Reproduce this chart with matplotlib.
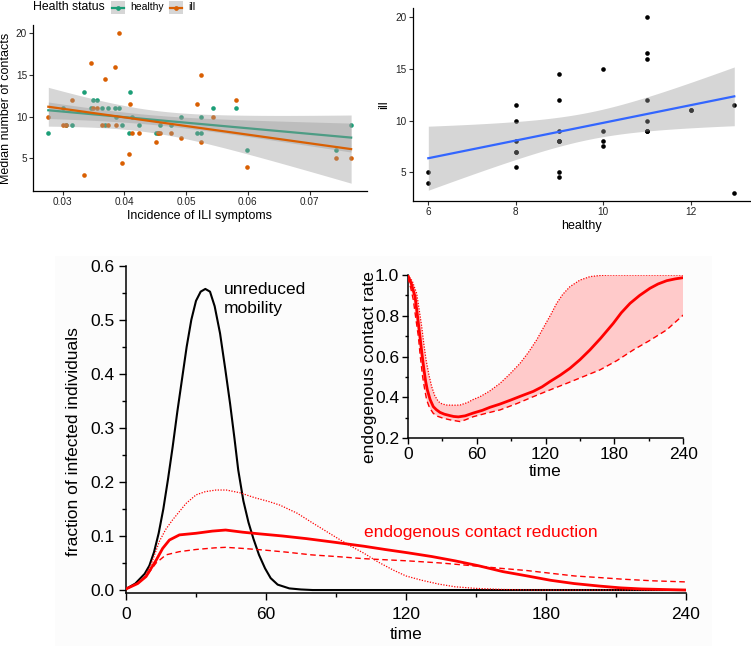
import numpy as np
import matplotlib
matplotlib.use('Agg')
import matplotlib.pyplot as plt
from matplotlib.patches import Rectangle
from matplotlib.lines import Line2D
from matplotlib.ticker import MultipleLocator, FixedLocator

plt.rcParams['font.family'] = ['Liberation Sans', 'DejaVu Sans']

# ---------------- data: top panels ----------------
incidence = [0.0277, 0.0300, 0.0306, 0.0316, 0.0335, 0.0346, 0.0350, 0.0356,
             0.0364, 0.0369, 0.0373, 0.0385, 0.0387, 0.0392, 0.0396, 0.0407,
             0.0409, 0.0413, 0.0424, 0.0451, 0.0454, 0.0457, 0.0475, 0.0491,
             0.0518, 0.0524, 0.0524, 0.0544, 0.0581, 0.0599, 0.0743, 0.0767]
healthy = [8, 11, 9, 9, 13, 11, 12, 12,
           11, 9, 11, 11, 10, 11, 9, 8,
           13, 10, 9, 8, 8, 9, 9, 10,
           8, 10, 8, 11, 11, 6, 6, 9]
ill = [10, 9, 9, 12, 3, 16.5, 11, 11,
       9, 14.5, 9, 16, 9, 20, 4.5, 5.5,
       11.5, 8, 8, 7, 8, 8, 8, 7.5,
       11.5, 15, 7, 10, 12, 4, 5, 5]
status_labels = ['healthy', 'ill']
status_colors = ['#1B9E77', '#D95F02']

# ---------------- data: bottom panel ----------------
t_unreduced = [0, 4, 8, 10, 12, 14, 16, 18, 20, 22, 24, 26, 28, 30, 32, 34, 36,
               38, 40.3, 42.5, 44.6, 46.5, 48.1, 50.3, 52.5, 54.6, 57, 59.6, 62,
               65, 70, 75, 80, 240]
f_unreduced = [0.002, 0.012, 0.03, 0.045, 0.07, 0.105, 0.15, 0.205, 0.265, 0.33,
               0.39, 0.45, 0.5, 0.535, 0.552, 0.557, 0.552, 0.525, 0.475, 0.41,
               0.345, 0.28, 0.222, 0.165, 0.125, 0.095, 0.065, 0.04, 0.022, 0.01,
               0.003, 0.001, 0.0, 0.0]

t_endo_mean = [0, 5, 8.6, 12.9, 15.7, 18.6, 22.9, 30, 37, 42.7, 50, 57, 67, 77.5,
               90, 102, 111, 120.6, 131, 141, 151, 161.6, 172, 182, 192, 202.7,
               212, 221, 230, 240]
f_endo_mean = [0.002, 0.012, 0.025, 0.055, 0.077, 0.0925, 0.102, 0.105, 0.109,
               0.111, 0.107, 0.104, 0.1, 0.095, 0.088, 0.081, 0.075, 0.069,
               0.062, 0.054, 0.045, 0.034, 0.026, 0.018, 0.012, 0.0074, 0.004,
               0.002, 0.001, 0.0]

t_endo_upper = [0, 5, 8, 11, 14.3, 17, 20, 25.7, 30, 34, 38.6, 43, 48.8, 55, 61,
                66, 73.4, 80, 89.8, 96, 102, 108, 114.5, 120, 126.8, 134, 141,
                150, 161.6, 175, 240]
f_endo_upper = [0.002, 0.012, 0.025, 0.05, 0.09, 0.112, 0.13, 0.16, 0.176,
                0.182, 0.185, 0.185, 0.18, 0.171, 0.164, 0.157, 0.142, 0.124,
                0.098, 0.082, 0.068, 0.052, 0.037, 0.026, 0.018, 0.011, 0.006,
                0.003, 0.001, 0.0, 0.0]

t_endo_lower = [0, 5, 8.6, 12.9, 17.1, 22.9, 30, 38, 42.7, 50, 59, 69, 79.6, 90,
                102, 111, 120.6, 135, 151, 161, 171.9, 182, 192.3, 203, 213,
                226, 240]
f_endo_lower = [0.002, 0.012, 0.025, 0.05, 0.065, 0.071, 0.075, 0.078, 0.079,
                0.077, 0.074, 0.07, 0.065, 0.062, 0.058, 0.056, 0.054, 0.05,
                0.044, 0.04, 0.036, 0.031, 0.026, 0.023, 0.02, 0.017, 0.015]

# inset: endogenous contact rate
t_rate_mean = [0, 3, 6.4, 8.5, 10.7, 12.5, 14.2, 15.6, 17.1, 19.5, 22.3, 25,
               28.1, 32, 36.9, 40, 44.1, 50, 57.2, 65, 71.7, 80, 89.1, 100,
               109.4, 117, 123.9, 133, 141.3, 150, 158.7, 168, 179, 186, 193.6,
               202, 211, 218, 225.5, 233, 240]
rate_mean = [1.0, 0.96, 0.894, 0.8, 0.698, 0.61, 0.535, 0.48, 0.437, 0.39,
             0.355, 0.34, 0.327, 0.318, 0.311, 0.307, 0.305, 0.31, 0.324,
             0.337, 0.352, 0.367, 0.386, 0.41, 0.43, 0.452, 0.478, 0.51, 0.543,
             0.585, 0.633, 0.69, 0.763, 0.815, 0.861, 0.9, 0.935, 0.956, 0.972,
             0.981, 0.987]
t_rate_upper = [0, 4, 7.8, 10, 12.2, 14, 16, 18.5, 20.9, 23.5, 26.7, 30, 34, 40,
                45.6, 52, 57, 63, 71, 80.4, 89, 97.8, 105, 112.3, 120, 125,
                129.7, 135, 141.3, 150, 158.7, 168, 176, 200, 240]
rate_upper = [1.0, 0.97, 0.91, 0.83, 0.747, 0.665, 0.584, 0.51, 0.453, 0.41,
              0.38, 0.368, 0.363, 0.362, 0.363, 0.375, 0.39, 0.404, 0.43, 0.469,
              0.515, 0.567, 0.62, 0.682, 0.76, 0.81, 0.861, 0.905, 0.943, 0.975,
              0.992, 0.998, 1.0, 1.0, 1.0]
t_rate_lower = [0, 2.5, 4.9, 7, 9.3, 11, 13, 14.8, 16.5, 19, 22.3, 26, 31, 38,
                45.6, 50, 57.2, 68, 80.4, 95, 109.4, 123, 138.4, 152, 167.4, 182,
                196.5, 211, 225.5, 240]
rate_lower = [0.99, 0.94, 0.878, 0.79, 0.698, 0.6, 0.502, 0.44, 0.388, 0.35,
              0.322, 0.308, 0.298, 0.289, 0.282, 0.29, 0.306, 0.322, 0.339,
              0.37, 0.404, 0.435, 0.469, 0.5, 0.535, 0.58, 0.633, 0.68, 0.731,
              0.804]


def t_quantile(df, z=1.959964):
    # Cornish-Fisher expansion of the Student t 97.5% quantile
    return (z + (z**3 + z) / (4 * df) + (5 * z**5 + 16 * z**3 + 3 * z) / (96 * df**2)
            + (3 * z**7 + 19 * z**5 + 17 * z**3 - 15 * z) / (384 * df**3))


def lm_fit(x, y, n=80):
    x = np.asarray(x, float)
    y = np.asarray(y, float)
    b1, b0 = np.polyfit(x, y, 1)
    xs = np.linspace(x.min(), x.max(), n)
    yh = b0 + b1 * xs
    res = y - (b0 + b1 * x)
    df = len(x) - 2
    s = np.sqrt(np.sum(res**2) / df)
    sxx = np.sum((x - x.mean())**2)
    se = s * np.sqrt(1.0 / len(x) + (xs - x.mean())**2 / sxx)
    tq = t_quantile(df)
    return xs, yh, yh - tq * se, yh + tq * se


W, H = 751, 646
fig = plt.figure(figsize=(W / 100, H / 100), dpi=100)


def fax(l, t, r, b):
    return fig.add_axes([l / W, 1 - b / H, (r - l) / W, (b - t) / H])


# very faint background of the lower (raster) figure
bg = fig.add_axes([55 / W, 0, (712 - 55) / W, 1 - 256 / H], zorder=-10)
bg.set_axis_off()
bg.add_patch(Rectangle((0, 0), 1, 1, transform=bg.transAxes, facecolor='#fcfcfc',
                       edgecolor='none'))


def gg_style(ax, tick_size=7.2):
    for s in ['top', 'right']:
        ax.spines[s].set_visible(False)
    for s in ['left', 'bottom']:
        ax.spines[s].set_linewidth(0.9)
        ax.spines[s].set_color('black')
    ax.tick_params(length=3, width=0.8, color='#333333', labelsize=tick_size,
                   labelcolor='#222222', pad=1.5)


# ---------------- top-left panel ----------------
ax1 = fax(33.3, 25, 366.7, 191)
inc = np.asarray(incidence)
for vals, col in zip([healthy, ill], status_colors):
    ax1.scatter(inc, vals, s=11, color=col, linewidths=0, zorder=2)
z = 3
for vals, col in zip([healthy, ill], status_colors):
    xs, yh, lo, hi = lm_fit(inc, vals)
    ax1.fill_between(xs, lo, hi, color='#999999', alpha=0.4, linewidth=0, zorder=z)
    ax1.plot(xs, yh, color=col, lw=1.6, zorder=z + 0.1)
    z += 0.2
ax1.set_xlim(0.02527, 0.07922)
ax1.set_ylim(1.08, 21.0)
ax1.xaxis.set_major_locator(FixedLocator([0.03, 0.04, 0.05, 0.06, 0.07]))
ax1.yaxis.set_major_locator(FixedLocator([5, 10, 15, 20]))
ax1.set_xticklabels(['0.03', '0.04', '0.05', '0.06', '0.07'])
gg_style(ax1)
ax1.set_xlabel('Incidence of ILI symptoms', fontsize=9, labelpad=2)
ax1.set_ylabel('Median number of contacts', fontsize=9, labelpad=3)

# legend (top)
fig.text(33 / W, 1 - 7.5 / H, 'Health status', fontsize=8.8, va='center', ha='left')
for (kx, tx), lab, col in zip([(111, 130), (169, 188)], status_labels, status_colors):
    fig.patches.append(Rectangle((kx / W, 1 - 14 / H), 13.5 / W, 13 / H,
                                 transform=fig.transFigure, facecolor='#d6d6d6',
                                 edgecolor='none'))
    fig.lines.append(Line2D([(kx + 1) / W, (kx + 12.5) / W], [1 - 7.5 / H] * 2,
                            transform=fig.transFigure, color=col, lw=1.6))
    fig.lines.append(Line2D([(kx + 6.75) / W], [1 - 7.5 / H], transform=fig.transFigure,
                            color=col, marker='o', markersize=3.4, markeredgewidth=0))
    fig.text(tx / W, 1 - 7.5 / H, lab, fontsize=7.5, va='center', ha='left')

# ---------------- top-right panel ----------------
ax2 = fax(412.7, 8, 750, 201)
ax2.scatter(healthy, ill, s=11, color='black', linewidths=0, zorder=2)
xs, yh, lo, hi = lm_fit(healthy, ill)
ax2.fill_between(xs, lo, hi, color='#999999', alpha=0.4, linewidth=0, zorder=3)
ax2.plot(xs, yh, color='#3366FF', lw=1.6, zorder=4)
ax2.set_xlim(5.643, 13.36)
ax2.set_ylim(2.22, 20.9)
ax2.xaxis.set_major_locator(FixedLocator([6, 8, 10, 12]))
ax2.yaxis.set_major_locator(FixedLocator([5, 10, 15, 20]))
gg_style(ax2)
ax2.set_xlabel('healthy', fontsize=9, labelpad=2)
ax2.set_ylabel('ill', fontsize=9, labelpad=4)

# ---------------- bottom main panel ----------------
red = '#ff0000'
ax3 = fax(126, 265.7, 686, 593)
ax3.patch.set_alpha(0)
ax3.plot(t_unreduced, f_unreduced, color='black', lw=1.5, zorder=3)
ax3.plot(t_endo_upper, f_endo_upper, color=red, lw=0.9, ls=(0, (1, 1.2)), zorder=4)
ax3.plot(t_endo_lower, f_endo_lower, color=red, lw=1.0, ls=(0, (4, 2.5)), zorder=4)
ax3.plot(t_endo_mean, f_endo_mean, color=red, lw=2.0, zorder=5)
ax3.set_xlim(0, 240)
ax3.set_ylim(-0.0055, 0.6)
ax3.xaxis.set_major_locator(MultipleLocator(60))
ax3.xaxis.set_minor_locator(MultipleLocator(30))
ax3.yaxis.set_major_locator(FixedLocator([0, 0.1, 0.2, 0.3, 0.4, 0.5, 0.6]))
ax3.yaxis.set_minor_locator(FixedLocator([0.05, 0.15, 0.25, 0.35, 0.45, 0.55]))
ax3.set_yticklabels(['0.0', '0.1', '0.2', '0.3', '0.4', '0.5', '0.6'])
for s in ['top', 'right']:
    ax3.spines[s].set_visible(False)
for s in ['left', 'bottom']:
    ax3.spines[s].set_linewidth(1.1)
ax3.tick_params(which='major', direction='out', length=5, width=1.0, labelsize=12.5, pad=3)
ax3.tick_params(axis='x', which='major', pad=5)
ax3.tick_params(which='minor', direction='out', length=3, width=1.0)
ax3.set_xlabel('time', fontsize=12.5, labelpad=4)
ax3.set_ylabel('fraction of infected individuals', fontsize=12.5)
ax3.yaxis.set_label_coords(-0.081, 0.462)
ax3.text(42.1, 0.556, 'unreduced', fontsize=12.5, ha='left', va='center')
ax3.text(42.1, 0.520, 'mobility', fontsize=12.5, ha='left', va='center')
ax3.text(101.9, 0.106, 'endogenous contact reduction', fontsize=12.5, color=red,
         ha='left', va='center')

# ---------------- inset ----------------
ax4 = fax(407.7, 275, 683.3, 438.3)
poly_t = list(t_rate_upper) + list(t_rate_lower)[::-1]
poly_v = list(rate_upper) + list(rate_lower)[::-1]
ax4.fill(poly_t, poly_v, color='#ffcaca', linewidth=0, zorder=1)
ax4.plot(t_rate_upper, rate_upper, color=red, lw=0.9, ls=(0, (1, 1.2)), zorder=3)
ax4.plot(t_rate_lower, rate_lower, color=red, lw=1.0, ls=(0, (4, 2.5)), zorder=3)
ax4.plot(t_rate_mean, rate_mean, color=red, lw=2.0, zorder=4)
ax4.set_xlim(0, 240)
ax4.set_ylim(0.2, 1.0)
ax4.patch.set_alpha(0)
ax4.xaxis.set_major_locator(MultipleLocator(60))
ax4.xaxis.set_minor_locator(MultipleLocator(30))
ax4.yaxis.set_major_locator(FixedLocator([0.2, 0.4, 0.6, 0.8, 1.0]))
ax4.yaxis.set_minor_locator(FixedLocator([0.3, 0.5, 0.7, 0.9]))
ax4.set_yticklabels(['0.2', '0.4', '0.6', '0.8', '1.0'])
for s in ['top', 'right']:
    ax4.spines[s].set_visible(False)
for s in ['left', 'bottom']:
    ax4.spines[s].set_linewidth(1.1)
ax4.tick_params(which='major', direction='out', length=4, width=1.0, labelsize=12.5, pad=2)
ax4.tick_params(which='minor', direction='out', length=2.5, width=1.0)
ax4.set_xlabel('time', fontsize=12.5, labelpad=2)
ax4.set_ylabel('endogenous contact rate', fontsize=12.5)
ax4.yaxis.set_label_coords(-0.113, 0.434)

fig.savefig('out.png', dpi=100)
